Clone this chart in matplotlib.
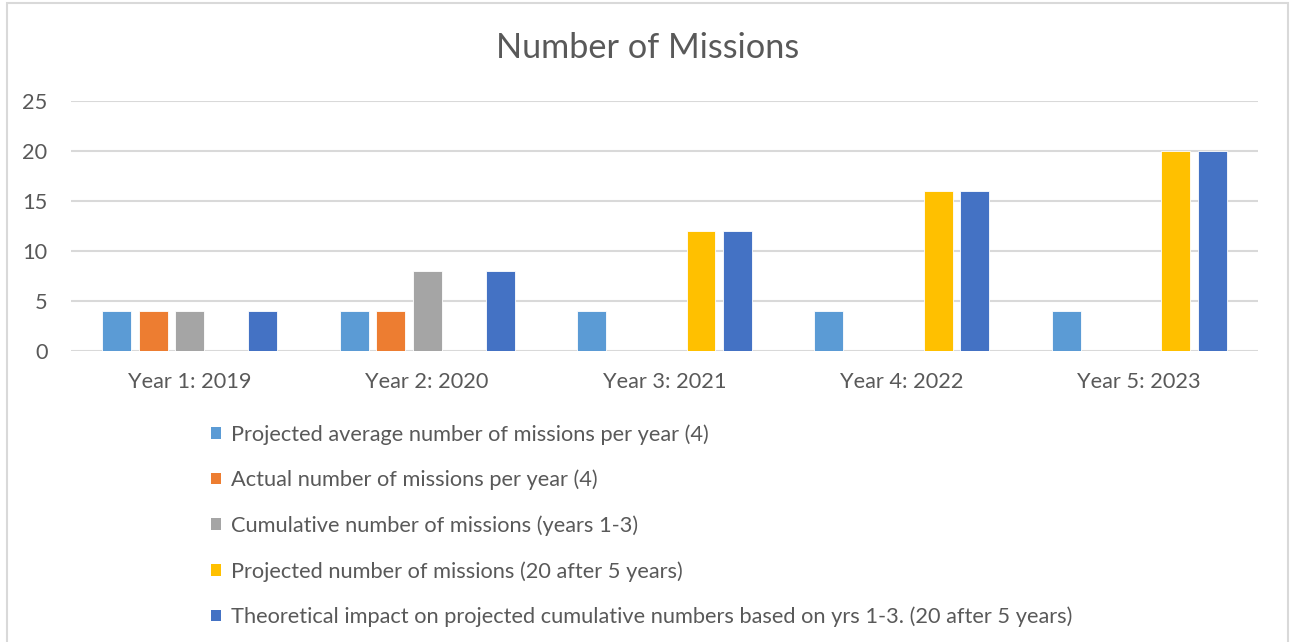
import matplotlib
matplotlib.use("Agg")
import matplotlib.pyplot as plt
import numpy as np
from matplotlib.patches import Patch, Rectangle

categories = ["Year 1: 2019", "Year 2: 2020", "Year 3: 2021", "Year 4: 2022", "Year 5: 2023"]
series_names = [
    "Projected average number of missions per year (4)",
    "Actual number of missions per year (4)",
    "Cumulative number of missions (years 1-3)",
    "Projected number of missions (20 after 5 years)",
    "Theoretical impact on projected cumulative numbers based on yrs 1-3. (20 after 5 years)",
]
projected_avg = [4, 4, 4, 4, 4]
actual = [4, 4, 0, 0, 0]
cumulative = [4, 8, 0, 0, 0]
projected_num = [0, 0, 12, 16, 20]
theoretical = [4, 8, 12, 16, 20]
series_values = [projected_avg, actual, cumulative, projected_num, theoretical]
colors = ["#5B9BD5", "#ED7D31", "#A5A5A5", "#FFC000", "#4472C4"]
yticks = [0, 5, 10, 15, 20, 25]

plt.rcParams['font.family'] = ['Lato', 'DejaVu Sans']
text_color = "#595959"
grid_color = "#D9D9D9"

W, H = 1297, 642
fig = plt.figure(figsize=(W / 100, H / 100), dpi=100)
fig.patch.set_facecolor("white")

# outer chart frame
fig.patches.append(Rectangle((7 / W, -0.05), (1288 - 7) / W, (H - 3) / H + 0.05,
                             transform=fig.transFigure, fill=False,
                             edgecolor=grid_color, linewidth=1.5))

ax = fig.add_axes([71 / W, 1 - 351 / H, (1258 - 71) / W, (351 - 101) / H])
x = np.arange(len(categories))
slot = 0.1537
width = 0.122
for i, (vals, c) in enumerate(zip(series_values, colors)):
    ax.bar(x + (i - 2) * slot, vals, width=width, color=c, edgecolor="white",
           linewidth=0.6, zorder=3)

ax.set_xlim(-0.5, len(categories) - 0.5)
ax.set_ylim(0, 25)
ax.set_yticks(yticks)
ax.set_xticks(x)
ax.set_xticklabels(categories)
ax.grid(axis="y", color=grid_color, linewidth=1.5, zorder=0)
for s in ["top", "right", "left", "bottom"]:
    ax.spines[s].set_visible(False)
ax.tick_params(axis="both", length=0, labelsize=15.7, colors=text_color)
ax.tick_params(axis="x", pad=15)
ax.tick_params(axis="y", pad=17)

fig.text(648 / W, 1 - 48 / H, "Number of Missions", ha="center", va="center",
         fontsize=24.7, color=text_color)

handles = [Patch(facecolor=c, edgecolor="none") for c in colors]
leg = fig.legend(handles, series_names, loc="upper left",
                 bbox_to_anchor=(211 / W, 1 - 424 / H), frameon=False,
                 fontsize=15.7, labelcolor=text_color, handlelength=0.46,
                 handleheight=0.46, handletextpad=0.46, labelspacing=1.15,
                 borderpad=0, borderaxespad=0)

fig.savefig("out.png", dpi=100)
